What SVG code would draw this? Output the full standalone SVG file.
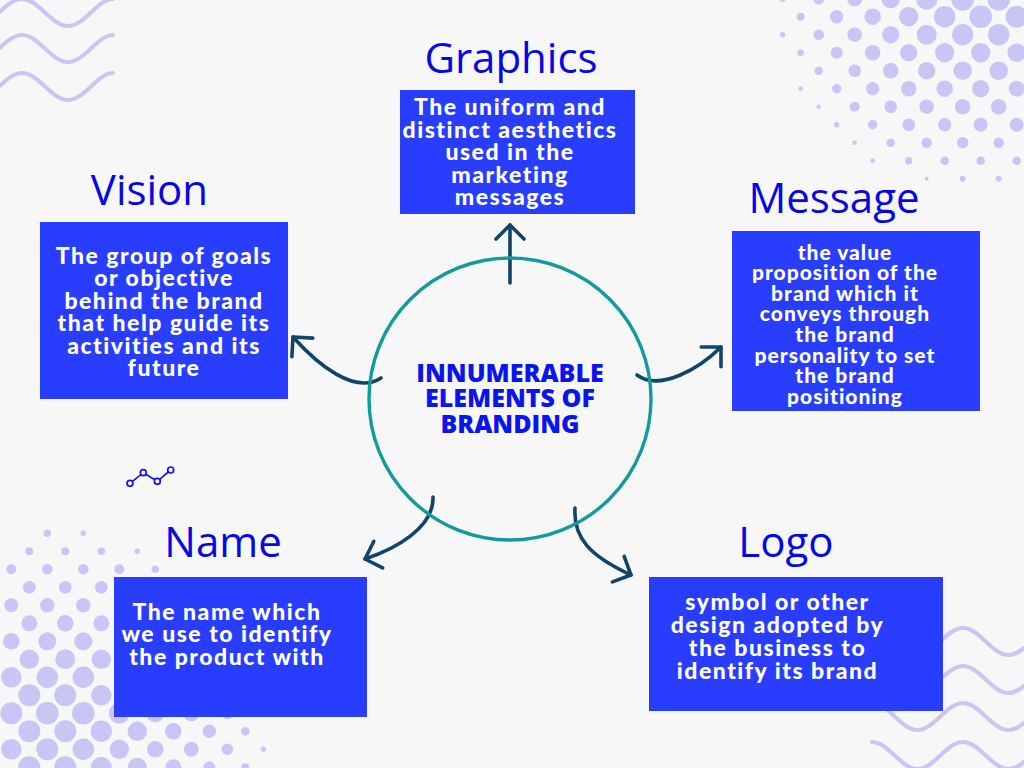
<svg xmlns="http://www.w3.org/2000/svg" width="1024" height="768" viewBox="0 0 1024 768">
  <style>
    .bg { fill: #f7f7f7; }
    .dot { fill: #c8c6f5; }
    .wave { fill: none; stroke: #c8c6f5; stroke-width: 4; stroke-linecap: round; }
    .box { fill: #283dfd; }
    .title { font-family: "Open Sans", "Liberation Sans", sans-serif; font-size: 42px; fill: #0606e6; text-anchor: middle; }
    .desc { font-family: Lato, "Liberation Sans", sans-serif; font-weight: 900; font-size: 23px; letter-spacing: 1.5px; fill: #ffffff; text-anchor: middle; }
    .desc.small { font-size: 21px; letter-spacing: 1px; }
    .core { fill: none; stroke: #129b9d; stroke-width: 3.4; }
    .core-text { font-family: "Open Sans", "Liberation Sans", sans-serif; font-weight: 800; font-size: 25px; fill: #0a14ee; text-anchor: middle; }
    .link { fill: none; stroke: #11446b; stroke-width: 3.6; stroke-linecap: round; marker-end: url(#chevron); }
    .spark { fill: none; stroke: #1414ee; stroke-width: 1.7; }
    .spark-pt { fill: #f7f7f7; stroke: #1414ee; stroke-width: 1.7; }
  </style>
  <defs>
    <marker id="chevron" markerUnits="userSpaceOnUse" markerWidth="40" markerHeight="40" refX="0" refY="0" viewBox="-20 -20 40 40" orient="auto" overflow="visible">
      <path d="M -14,-14 L 0,0 L -14,14" fill="none" stroke="#11446b" stroke-width="3.6" stroke-linecap="round" stroke-linejoin="round"/>
    </marker>
  </defs>

  <rect class="bg" x="0" y="0" width="1024" height="768"/>

  <!-- decorative waves, top left -->
  <g id="waves-top-left">
    <path class="wave" d="M -24,26 C -7.2,26 5.2,-1 22,-1 C 38.8,-1 51.2,26 68,26 C 84.8,26 97.2,-1 113,-1"/>
    <path class="wave" d="M -24,62 C -7.2,62 5.2,35 22,35 C 38.8,35 51.2,62 68,62 C 84.8,62 97.2,35 113,35"/>
    <path class="wave" d="M -24,100 C -7.2,100 5.2,73 22,73 C 38.8,73 51.2,100 68,100 C 84.8,100 97.2,73 113,73"/>
  </g>

  <!-- decorative waves, bottom right -->
  <g id="waves-bottom-right">
    <path class="wave" d="M 872,628 C 888.6,628 900.9,655 917.5,655 C 934.1,655 946.4,628 963,628 C 979.6,628 991.9,655 1008.5,655 C 1025.1,655 1037.4,628 1054,628"/>
    <path class="wave" d="M 872,666 C 888.6,666 900.9,693 917.5,693 C 934.1,693 946.4,666 963,666 C 979.6,666 991.9,693 1008.5,693 C 1025.1,693 1037.4,666 1054,666"/>
    <path class="wave" d="M 872,703 C 888.6,703 900.9,730 917.5,730 C 934.1,730 946.4,703 963,703 C 979.6,703 991.9,730 1008.5,730 C 1025.1,730 1037.4,703 1054,703"/>
    <path class="wave" d="M 872,742 C 888.6,742 900.9,769 917.5,769 C 934.1,769 946.4,742 963,742 C 979.6,742 991.9,769 1008.5,769 C 1025.1,769 1037.4,742 1054,742"/>
  </g>

  <!-- halftone dots, top right -->
  <g id="dots-top-right">
    <circle class="dot" cx="782.7" cy="-1" r="3"/><circle class="dot" cx="818.7" cy="-1" r="5.5"/><circle class="dot" cx="854.7" cy="-1" r="7.5"/><circle class="dot" cx="890.7" cy="-1" r="9.3"/><circle class="dot" cx="926.7" cy="-1" r="10.7"/><circle class="dot" cx="962.7" cy="-1" r="11.5"/><circle class="dot" cx="998.7" cy="-1" r="11.5"/>
    <circle class="dot" cx="800.7" cy="16.7" r="4"/><circle class="dot" cx="836.7" cy="16.7" r="6.7"/><circle class="dot" cx="872.7" cy="16.7" r="8.3"/><circle class="dot" cx="908.7" cy="16.7" r="9.7"/><circle class="dot" cx="944.7" cy="16.7" r="10.7"/><circle class="dot" cx="980.7" cy="16.7" r="11.3"/><circle class="dot" cx="1016.7" cy="16.7" r="11"/>
    <circle class="dot" cx="782.7" cy="34.7" r="2.7"/><circle class="dot" cx="818.7" cy="34.7" r="5.3"/><circle class="dot" cx="854.7" cy="34.7" r="7.3"/><circle class="dot" cx="890.7" cy="34.7" r="8.7"/><circle class="dot" cx="926.7" cy="34.7" r="10"/><circle class="dot" cx="962.7" cy="34.7" r="10.7"/><circle class="dot" cx="998.7" cy="34.7" r="10.7"/>
    <circle class="dot" cx="800.7" cy="52.7" r="3.3"/><circle class="dot" cx="836.7" cy="52.7" r="6"/><circle class="dot" cx="872.7" cy="52.7" r="7.7"/><circle class="dot" cx="908.7" cy="52.7" r="8.7"/><circle class="dot" cx="944.7" cy="52.7" r="9.7"/><circle class="dot" cx="980.7" cy="52.7" r="9.7"/><circle class="dot" cx="1016.7" cy="52.7" r="9.3"/>
    <circle class="dot" cx="818.7" cy="70.7" r="4.3"/><circle class="dot" cx="854.7" cy="70.7" r="6.3"/><circle class="dot" cx="890.7" cy="70.7" r="7.7"/><circle class="dot" cx="926.7" cy="70.7" r="8.7"/><circle class="dot" cx="962.7" cy="70.7" r="9.3"/><circle class="dot" cx="998.7" cy="70.7" r="9.3"/>
    <circle class="dot" cx="800.7" cy="88.7" r="2.3"/><circle class="dot" cx="836.7" cy="88.7" r="4.7"/><circle class="dot" cx="872.7" cy="88.7" r="6.7"/><circle class="dot" cx="908.7" cy="88.7" r="7.7"/><circle class="dot" cx="944.7" cy="88.7" r="8.3"/><circle class="dot" cx="980.7" cy="88.7" r="8.7"/><circle class="dot" cx="1016.7" cy="88.7" r="8"/>
    <circle class="dot" cx="818.7" cy="106.7" r="2.3"/><circle class="dot" cx="854.7" cy="106.7" r="5"/><circle class="dot" cx="890.7" cy="106.7" r="6.3"/><circle class="dot" cx="926.7" cy="106.7" r="7.3"/><circle class="dot" cx="962.7" cy="106.7" r="7.7"/><circle class="dot" cx="998.7" cy="106.7" r="7.7"/>
    <circle class="dot" cx="836.7" cy="124.7" r="2.7"/><circle class="dot" cx="872.7" cy="124.7" r="4.7"/><circle class="dot" cx="908.7" cy="124.7" r="6.3"/><circle class="dot" cx="944.7" cy="124.7" r="6.7"/><circle class="dot" cx="980.7" cy="124.7" r="7"/><circle class="dot" cx="1016.7" cy="124.7" r="7"/>
    <circle class="dot" cx="854.7" cy="142.7" r="2.3"/><circle class="dot" cx="890.7" cy="142.7" r="4.3"/><circle class="dot" cx="926.7" cy="142.7" r="5.3"/><circle class="dot" cx="962.7" cy="142.7" r="5.7"/><circle class="dot" cx="998.7" cy="142.7" r="5.3"/>
    <circle class="dot" cx="872.7" cy="160.7" r="2.3"/><circle class="dot" cx="908.7" cy="160.7" r="3.7"/><circle class="dot" cx="944.7" cy="160.7" r="4.3"/><circle class="dot" cx="980.7" cy="160.7" r="4.3"/><circle class="dot" cx="1016.7" cy="160.7" r="4.3"/>
    <circle class="dot" cx="926.7" cy="178.7" r="2"/><circle class="dot" cx="962.7" cy="178.7" r="3"/><circle class="dot" cx="998.7" cy="178.7" r="3"/>
  </g>

  <!-- halftone dots, bottom left -->
  <g id="dots-bottom-left">
    <circle class="dot" cx="47.3" cy="533.3" r="3.7"/><circle class="dot" cx="83.3" cy="533.3" r="2.7"/>
    <circle class="dot" cx="29.3" cy="551.3" r="4"/><circle class="dot" cx="65.3" cy="551.3" r="4"/><circle class="dot" cx="101.3" cy="551.3" r="3.7"/><circle class="dot" cx="137.3" cy="551.3" r="2.7"/>
    <circle class="dot" cx="11.3" cy="569.3" r="5"/><circle class="dot" cx="47.3" cy="569.3" r="5.3"/><circle class="dot" cx="83.3" cy="569.3" r="5.3"/><circle class="dot" cx="119.3" cy="569.3" r="5"/><circle class="dot" cx="155.3" cy="569.3" r="3.7"/>
    <circle class="dot" cx="29.3" cy="587.3" r="6.3"/><circle class="dot" cx="65.3" cy="587.3" r="6.3"/><circle class="dot" cx="101.3" cy="587.3" r="6.3"/>
    <circle class="dot" cx="11.3" cy="605.3" r="7"/><circle class="dot" cx="47.3" cy="605.3" r="7.3"/><circle class="dot" cx="83.3" cy="605.3" r="7.3"/>
    <circle class="dot" cx="29.3" cy="623.3" r="8"/><circle class="dot" cx="65.3" cy="623.3" r="8.3"/><circle class="dot" cx="101.3" cy="623.3" r="8"/>
    <circle class="dot" cx="11.3" cy="641.3" r="8.3"/><circle class="dot" cx="47.3" cy="641.3" r="9"/><circle class="dot" cx="83.3" cy="641.3" r="9"/>
    <circle class="dot" cx="29.3" cy="659.3" r="9.7"/><circle class="dot" cx="65.3" cy="659.3" r="10"/><circle class="dot" cx="101.3" cy="659.3" r="9.7"/>
    <circle class="dot" cx="11.3" cy="677.3" r="10.3"/><circle class="dot" cx="47.3" cy="677.3" r="10.7"/><circle class="dot" cx="83.3" cy="677.3" r="10.7"/>
    <circle class="dot" cx="29.3" cy="695.3" r="11"/><circle class="dot" cx="65.3" cy="695.3" r="11"/><circle class="dot" cx="101.3" cy="695.3" r="10.3"/>
    <circle class="dot" cx="11.3" cy="713.3" r="11"/><circle class="dot" cx="47.3" cy="713.3" r="11.3"/><circle class="dot" cx="83.3" cy="713.3" r="11.3"/><circle class="dot" cx="119.3" cy="713.3" r="10.5"/><circle class="dot" cx="155.3" cy="713.3" r="9"/><circle class="dot" cx="191.3" cy="713.3" r="8"/><circle class="dot" cx="227.3" cy="713.3" r="6"/>
    <circle class="dot" cx="29.3" cy="731.3" r="11"/><circle class="dot" cx="65.3" cy="731.3" r="11"/><circle class="dot" cx="101.3" cy="731.3" r="10.7"/><circle class="dot" cx="137.3" cy="731.3" r="9.7"/><circle class="dot" cx="173.3" cy="731.3" r="8.3"/><circle class="dot" cx="209.3" cy="731.3" r="6.7"/><circle class="dot" cx="245.3" cy="731.3" r="4.3"/>
    <circle class="dot" cx="11.3" cy="749.3" r="10.3"/><circle class="dot" cx="47.3" cy="749.3" r="11"/><circle class="dot" cx="83.3" cy="749.3" r="10.7"/><circle class="dot" cx="119.3" cy="749.3" r="9.7"/><circle class="dot" cx="155.3" cy="749.3" r="8.3"/><circle class="dot" cx="191.3" cy="749.3" r="7.5"/><circle class="dot" cx="227.3" cy="749.3" r="5.7"/><circle class="dot" cx="263.3" cy="749.3" r="2.7"/>
    <circle class="dot" cx="29.3" cy="767.3" r="11"/><circle class="dot" cx="65.3" cy="767.3" r="11"/><circle class="dot" cx="101.3" cy="767.3" r="10.5"/><circle class="dot" cx="137.3" cy="767.3" r="9.5"/><circle class="dot" cx="173.3" cy="767.3" r="8"/><circle class="dot" cx="209.3" cy="767.3" r="6"/><circle class="dot" cx="245.3" cy="767.3" r="4"/>
  </g>

  <!-- small line-chart glyph -->
  <g id="sparkline">
    <polyline class="spark" points="130,483.3 143.3,472.7 157.3,481.3 170.7,470"/>
    <circle class="spark-pt" cx="130" cy="483.3" r="3"/>
    <circle class="spark-pt" cx="143.3" cy="472.7" r="3"/>
    <circle class="spark-pt" cx="157.3" cy="481.3" r="3"/>
    <circle class="spark-pt" cx="170.7" cy="470" r="3"/>
  </g>

  <!-- connectors from the hub to each element -->
  <g id="connectors">
    <path class="link" d="M 510,283 L 510,225"/>
    <path class="link" d="M 381,378 C 355,395 318,365 293,337"/>
    <path class="link" d="M 637,375 C 660,392 700,368 721,347"/>
    <path class="link" d="M 433,497 C 434,528 395,549 365,559"/>
    <path class="link" d="M 575,508 C 573,538 590,556 631,575"/>
  </g>

  <!-- hub -->
  <g id="hub">
    <circle class="core" cx="510" cy="399" r="141"/>
    <text class="core-text" x="510" y="381.7">INNUMERABLE</text>
    <text class="core-text" x="510" y="407.3">ELEMENTS OF</text>
    <text class="core-text" x="510" y="433.3">BRANDING</text>
  </g>

  <g id="graphics">
    <text class="title" x="511" y="73">Graphics</text>
    <rect class="box" x="400" y="90" width="235" height="124"/>
    <text class="desc" x="510" y="115">The uniform and</text>
    <text class="desc" x="510" y="137.5">distinct aesthetics</text>
    <text class="desc" x="510" y="160">used in the</text>
    <text class="desc" x="510" y="182.5">marketing</text>
    <text class="desc" x="510" y="205">messages</text>
  </g>

  <g id="vision">
    <text class="title" x="149.5" y="205">Vision</text>
    <rect class="box" x="40" y="222" width="248" height="177"/>
    <text class="desc" x="164" y="263.5">The group of goals</text>
    <text class="desc" x="164" y="286">or objective</text>
    <text class="desc" x="164" y="308.5">behind the brand</text>
    <text class="desc" x="164" y="331">that help guide its</text>
    <text class="desc" x="164" y="353.5">activities and its</text>
    <text class="desc" x="164" y="376">future</text>
  </g>

  <g id="message">
    <text class="title" x="834" y="213">Message</text>
    <rect class="box" x="732" y="231" width="248" height="180"/>
    <text class="desc small" x="845" y="259.5">the value</text>
    <text class="desc small" x="845" y="280">proposition of the</text>
    <text class="desc small" x="845" y="300.5">brand which it</text>
    <text class="desc small" x="845" y="321">conveys through</text>
    <text class="desc small" x="845" y="341.5">the brand</text>
    <text class="desc small" x="845" y="362.5">personality to set</text>
    <text class="desc small" x="845" y="383">the brand</text>
    <text class="desc small" x="845" y="403.5">positioning</text>
  </g>

  <g id="name">
    <text class="title" x="223" y="557">Name</text>
    <rect class="box" x="114" y="577" width="253" height="140"/>
    <text class="desc" x="227" y="619.5">The name which</text>
    <text class="desc" x="227" y="642">we use to identify</text>
    <text class="desc" x="227" y="664.5">the product with</text>
  </g>

  <g id="logo">
    <text class="title" x="786" y="557">Logo</text>
    <rect class="box" x="649" y="577" width="294" height="134"/>
    <text class="desc" x="777.5" y="609.5">symbol or other</text>
    <text class="desc" x="777.5" y="632.5">design adopted by</text>
    <text class="desc" x="777.5" y="655.5">the business to</text>
    <text class="desc" x="777.5" y="678.5">identify its brand</text>
  </g>
</svg>
